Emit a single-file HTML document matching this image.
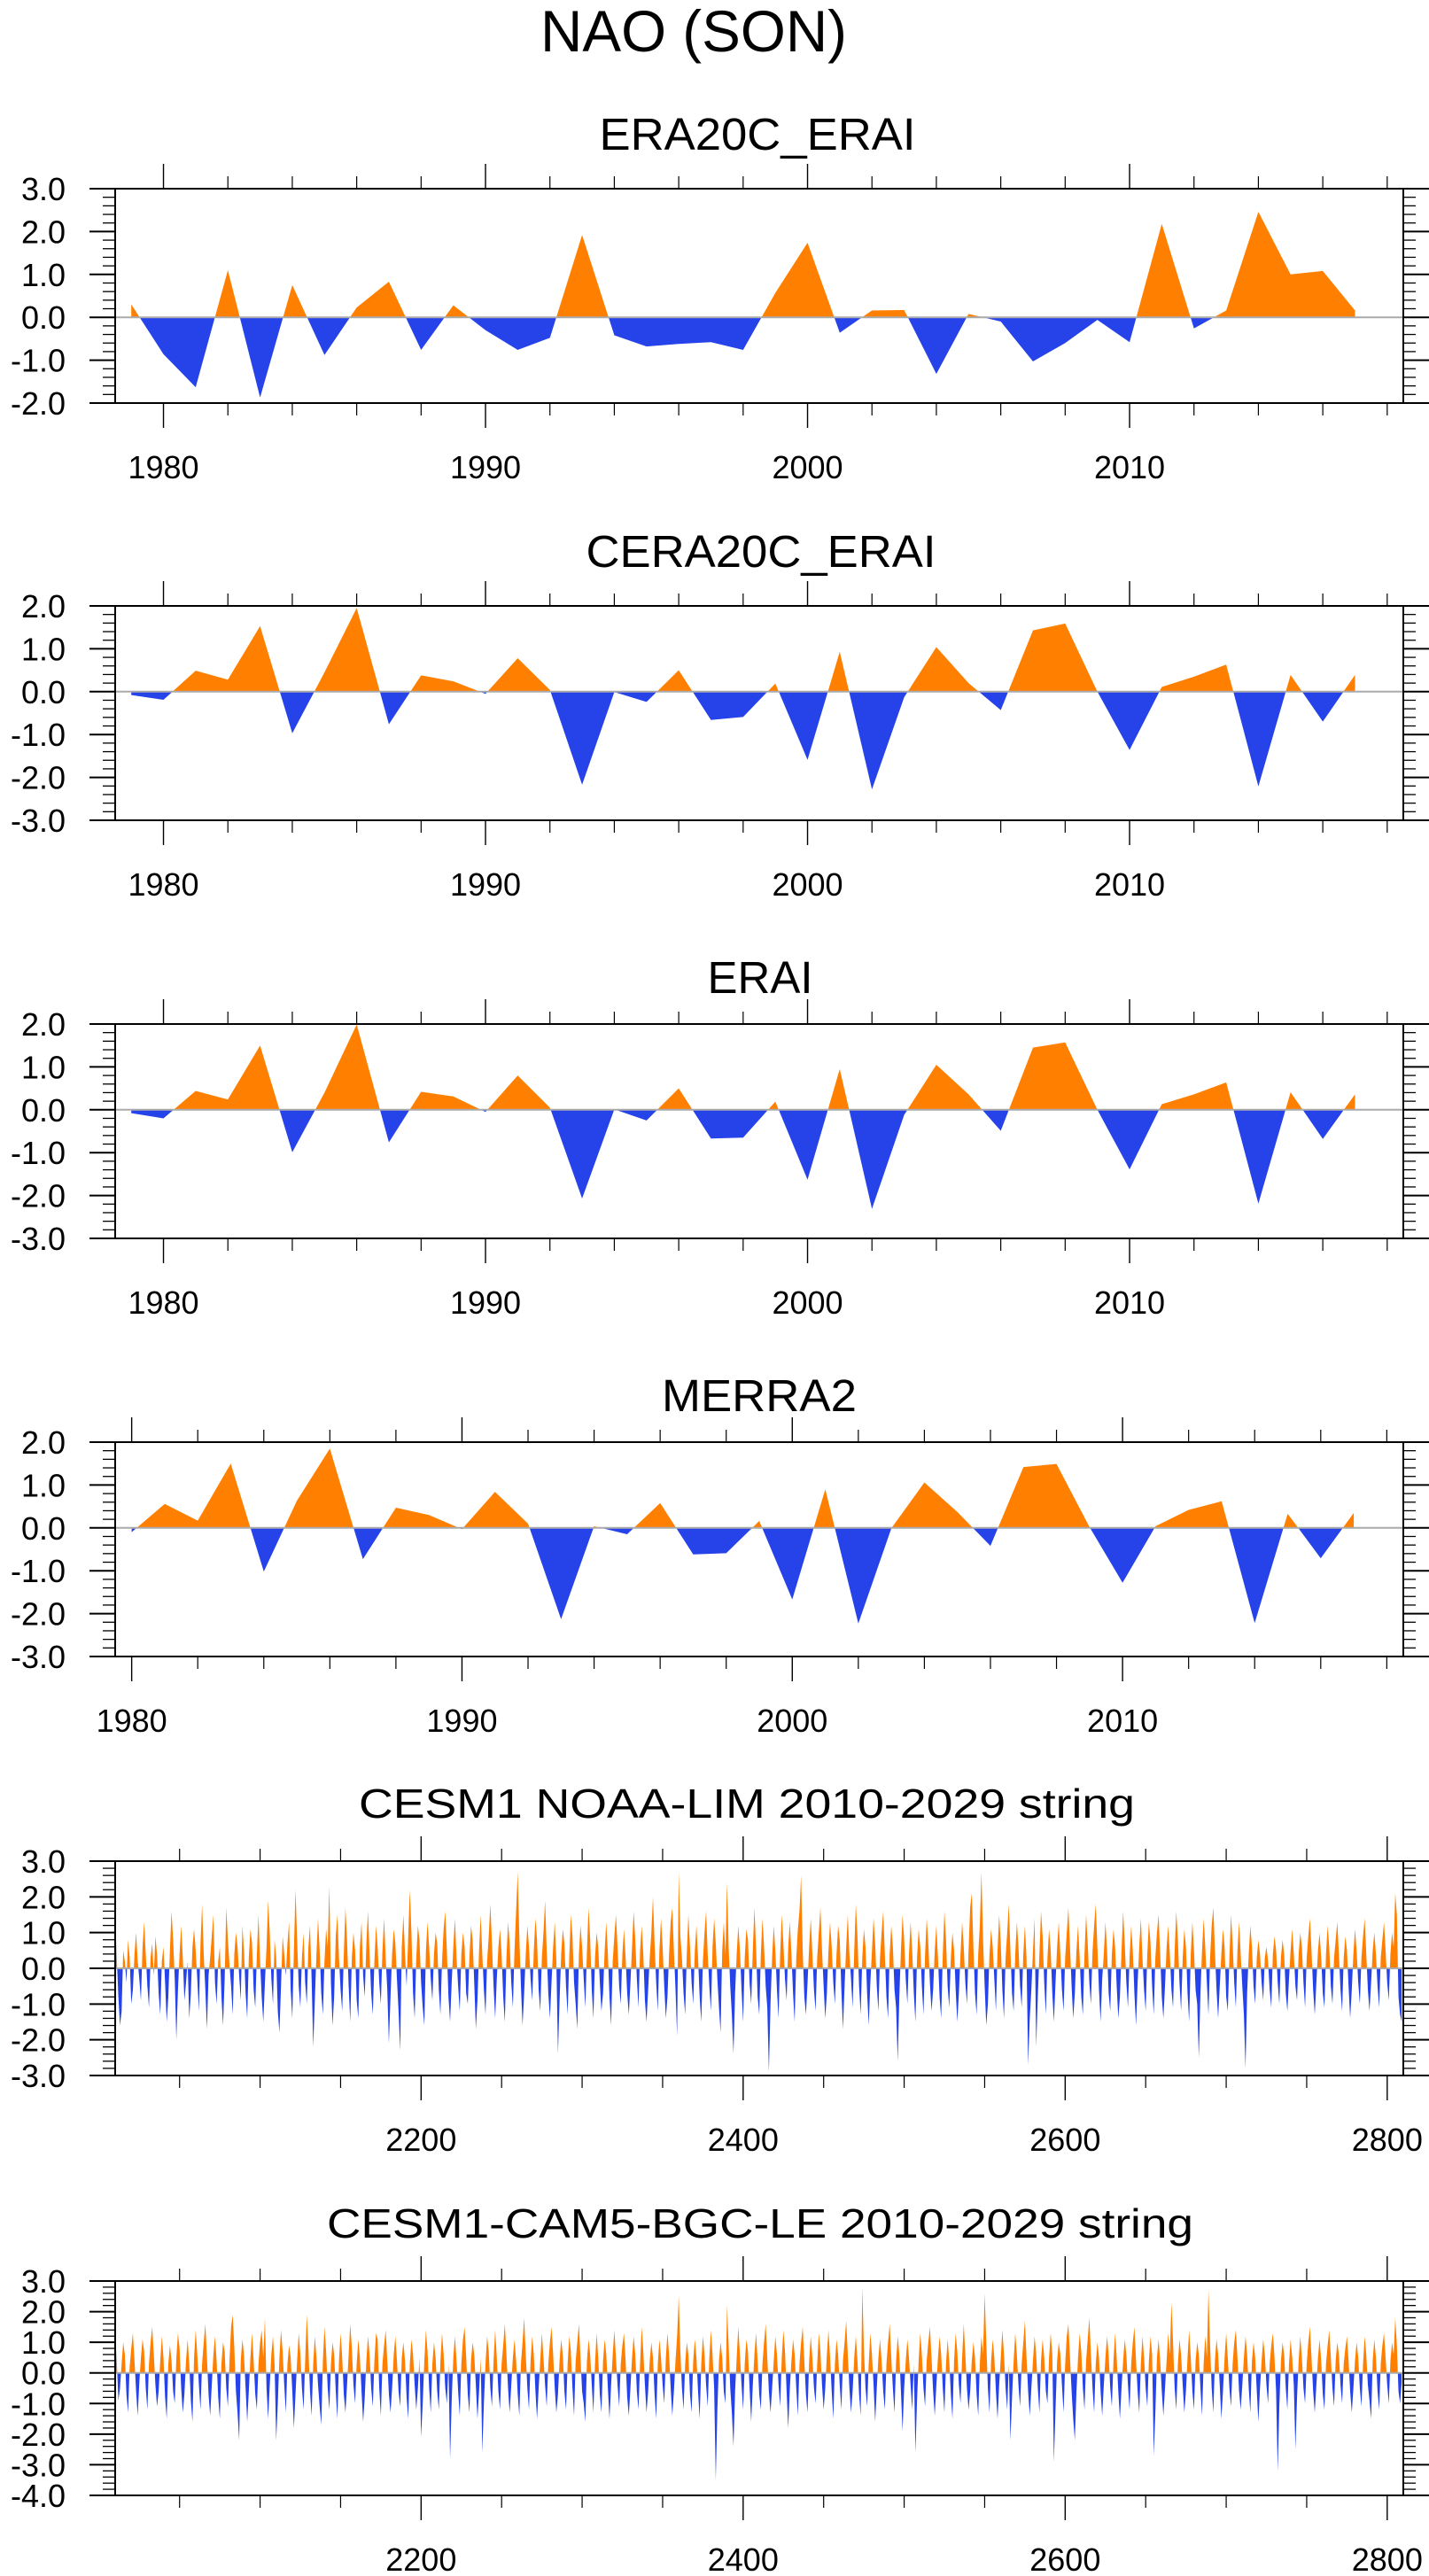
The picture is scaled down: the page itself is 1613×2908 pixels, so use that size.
<!DOCTYPE html>
<html><head><meta charset="utf-8"><title>NAO (SON)</title>
<style>html,body{margin:0;padding:0;background:#fff}svg{display:block}text{font-family:"Liberation Sans",Arial,sans-serif;fill:#000}</style>
</head><body>
<svg id="chart" xmlns="http://www.w3.org/2000/svg" width="1613" height="2908" viewBox="0 0 1613 2908">
<rect width="1613" height="2908" fill="#fff"/>
<text x="783" y="58" font-size="66" text-anchor="middle" textLength="346" lengthAdjust="spacingAndGlyphs">NAO (SON)</text>
</svg>
<script>
// ---------- data ----------
const eraYears = [];
for (let y = 1979; y <= 2017; y++) eraYears.push(y);
const merraYears = [];
for (let y = 1980; y <= 2017; y++) merraYears.push(y);
const cesmYears = [];
for (let y = 2010; y <= 2809; y++) cesmYears.push(y);

const era20cEraiValues = [0.3,-0.86,-1.63,1.1,-1.87,0.75,-0.88,0.23,0.83,-0.76,0.28,-0.3,-0.76,-0.48,1.92,-0.42,-0.68,-0.62,-0.58,-0.76,0.57,1.74,-0.36,0.16,0.17,-1.32,0.08,-0.1,-1.03,-0.6,-0.06,-0.58,2.18,-0.26,0.16,2.46,1.0,1.08,0.16];
const cera20cEraiValues = [-0.08,-0.19,0.49,0.28,1.53,-0.97,0.45,1.95,-0.76,0.38,0.24,-0.05,0.78,0.04,-2.17,-0.01,-0.24,0.5,-0.66,-0.59,0.19,-1.59,0.93,-2.28,-0.13,1.04,0.2,-0.43,1.43,1.59,0.0,-1.36,0.11,0.35,0.63,-2.21,0.39,-0.7,0.39];
const eraiValues = [-0.08,-0.2,0.44,0.24,1.5,-0.99,0.4,1.99,-0.76,0.42,0.31,-0.05,0.8,0.05,-2.07,0.01,-0.25,0.5,-0.67,-0.65,0.19,-1.63,0.95,-2.31,-0.12,1.05,0.36,-0.49,1.45,1.57,0.0,-1.39,0.13,0.36,0.64,-2.19,0.41,-0.68,0.36];
const merra2Values = [-0.1,0.56,0.17,1.5,-1.02,0.63,1.85,-0.73,0.47,0.3,-0.03,0.84,0.1,-2.13,0.04,-0.15,0.58,-0.62,-0.59,0.16,-1.67,0.9,-2.23,-0.01,1.06,0.37,-0.42,1.42,1.49,0.02,-1.28,0.04,0.42,0.62,-2.22,0.33,-0.71,0.35];

const noaaLimValues = [
1.4,0.3,-0.8,-1.6,-1.2,0.5,0.2,-0.4,0.8,0.3,-1.0,-0.6,0.4,1.0,0.2,-0.3,-0.9,0.6,1.3,0.4,
-0.5,-1.1,0.3,0.7,-0.2,0.9,0.4,-0.7,-1.3,0.2,0.6,-0.4,-1.5,-0.8,0.5,1.6,0.8,-0.3,-2.0,-0.6,
0.4,1.2,0.3,-0.9,-0.4,0.2,-1.4,-0.7,0.6,1.1,0.5,-0.3,-1.2,0.7,1.8,0.4,-0.6,-1.7,-0.2,0.3,
0.9,1.5,-0.4,-1.0,0.2,0.6,-0.8,-1.6,-0.3,1.7,0.8,0.1,-0.5,-1.3,0.4,1.0,0.6,-0.2,-0.9,1.2,
0.5,-0.7,-1.4,0.3,1.1,0.7,-0.6,-1.1,0.4,1.5,0.2,-0.8,-1.5,-0.4,0.6,1.9,1.0,-0.3,-1.0,0.8,
0.3,-1.2,-1.8,-0.5,0.9,0.4,-0.2,0.7,1.3,-0.6,-1.4,0.5,2.2,0.8,-0.5,-1.1,0.3,1.0,-0.4,-1.0,
0.6,1.2,-0.3,-2.2,-0.9,0.4,1.4,0.5,-0.7,-1.3,0.2,1.1,0.6,2.3,-0.4,-1.6,-0.8,0.9,1.5,0.3,
-0.6,-1.2,0.4,1.7,0.8,-0.5,-1.5,0.3,1.0,0.5,-0.9,-1.4,0.6,1.3,-0.2,-0.8,0.7,1.6,0.4,-0.7,
-1.3,0.2,1.2,0.6,-0.4,-1.0,0.5,1.4,0.3,-0.6,-2.1,-0.8,0.4,1.1,0.7,-0.3,-1.2,-2.3,0.6,1.5,
0.4,-0.5,0.9,2.2,1.0,-0.7,-1.4,0.3,1.2,0.8,-0.4,-1.1,-1.6,0.5,1.3,0.6,-0.3,-0.9,0.4,1.0,
0.7,-0.6,-1.3,0.2,1.1,1.6,0.5,-0.8,-1.5,-0.4,0.6,1.4,0.3,-0.5,-1.2,0.4,1.0,0.6,-0.7,-1.0,
0.3,1.2,0.8,-0.4,-1.7,-0.9,0.5,1.5,0.4,-0.6,-1.3,0.2,0.9,1.8,0.7,-0.5,-1.4,-0.3,0.6,1.1,
0.4,-0.8,-1.5,0.3,1.3,0.7,-0.4,-1.1,0.5,1.6,2.7,0.9,-0.5,-1.6,-0.7,0.4,1.2,0.6,-0.3,-0.9,
0.5,1.4,0.8,-0.6,-1.2,0.3,1.0,1.9,0.5,-0.7,-1.4,-0.4,0.6,1.3,0.2,-2.4,-0.9,0.4,1.1,0.7,
-0.5,-1.3,0.3,1.5,0.9,-0.4,-1.0,-1.7,0.4,1.2,0.6,-0.3,-1.1,0.5,1.7,0.8,-0.6,-1.4,0.3,1.0,
0.6,-0.4,-1.2,-0.7,0.5,1.3,0.4,-0.8,-1.6,0.2,0.9,1.5,0.6,-0.5,-1.0,0.4,1.1,0.3,-0.7,-1.3,
-0.4,0.6,1.6,0.8,-0.3,-1.1,0.5,1.2,0.4,-0.9,-1.5,-0.6,0.3,1.0,2.0,0.7,-0.4,-1.2,0.5,1.4,
0.6,-0.5,-1.4,-0.8,0.4,1.3,1.7,0.5,-0.6,-1.9,2.7,0.9,0.3,-0.7,-1.3,0.4,1.5,0.6,-0.4,-1.0,
0.5,1.2,0.3,-0.8,-1.5,0.2,1.0,1.6,0.4,-0.5,-1.2,0.6,1.4,0.7,-0.3,-1.1,-1.8,0.5,1.3,0.4,
2.4,0.6,-0.5,-1.3,-2.4,-0.7,0.4,1.2,0.5,-0.6,-1.5,0.3,1.1,0.8,-0.4,-1.0,0.5,1.7,0.6,-0.8,
-1.3,0.4,1.4,0.6,-0.5,-1.1,-2.9,-1.0,0.3,1.2,0.5,-0.6,-1.4,0.4,1.5,0.7,-0.3,-0.9,0.6,1.3,
0.4,-0.7,-1.5,0.3,1.1,1.6,2.6,0.5,-0.8,-1.3,-0.4,0.6,1.4,0.4,-0.6,-1.2,0.3,1.0,1.7,0.5,
-0.5,-1.4,-0.7,0.5,1.3,0.6,-0.4,-1.0,0.4,1.2,0.8,-0.6,-1.7,-0.5,0.6,1.5,0.4,-0.3,-1.1,0.5,
1.8,0.9,-0.5,-1.3,0.3,1.1,0.6,-0.7,-1.6,-0.4,0.5,1.4,0.7,-0.5,-1.2,0.3,1.0,1.6,0.4,-0.8,
-1.4,0.4,1.2,0.6,-0.6,-1.1,-2.6,-0.8,0.5,1.5,0.8,-0.3,-1.0,0.4,1.3,0.5,-0.7,-1.5,0.3,1.1,
0.6,-0.5,-1.3,0.4,1.4,0.7,-0.4,-1.2,-0.6,0.5,1.2,0.3,-0.8,-1.4,0.4,1.6,0.8,-0.5,-1.1,0.3,
1.0,0.5,-0.6,-1.5,-0.7,0.4,1.3,0.6,-0.4,-1.0,0.5,1.7,2.1,0.6,-0.7,-1.3,0.4,1.2,2.7,0.8,
-0.5,-1.6,-1.0,0.4,1.1,0.6,-0.3,-1.2,0.5,1.5,0.7,-0.6,-1.4,0.3,1.0,1.8,0.5,-0.7,-1.2,0.4,
1.3,0.6,-0.5,-1.1,0.4,1.2,0.3,-2.7,-1.4,-0.6,0.5,1.4,-2.2,-0.8,0.4,1.6,0.9,-0.4,-1.3,0.3,
1.1,0.5,-0.7,-1.5,-0.4,0.6,1.3,0.4,-0.6,-1.2,0.3,1.0,1.7,0.6,-0.5,-1.4,-0.7,0.5,1.2,0.3,
-0.8,-1.3,0.4,1.5,0.7,-0.4,-1.0,0.5,1.2,1.8,0.6,-0.6,-1.5,-0.3,0.4,1.3,0.5,-0.7,-1.2,0.4,
1.1,0.6,-0.5,-1.4,-0.8,0.5,1.6,0.7,-0.4,-1.1,0.3,1.2,0.5,-0.7,-1.6,-0.4,0.6,1.4,0.3,-0.6,
-1.2,0.4,1.3,0.7,-0.5,-1.3,0.3,1.0,1.5,0.4,-0.8,-1.4,-0.5,0.6,1.2,0.4,-0.6,-1.1,0.5,1.6,
0.8,-0.4,-1.2,0.3,1.1,0.6,-0.7,-1.5,0.4,1.3,0.5,-0.6,-1.0,-2.5,-0.7,0.5,1.4,0.6,-0.4,-1.3,
0.3,1.2,1.7,0.5,-0.6,-1.4,-0.5,0.4,1.1,0.6,-0.8,-1.2,0.3,1.5,0.7,-0.4,-1.1,0.5,1.3,0.4,
-0.5,-1.3,-2.8,-0.7,0.4,1.2,0.6,-0.5,-1.0,0.3,0.8,0.4,-0.4,-0.9,0.3,0.6,0.2,-0.6,-1.1,0.4,
0.9,0.5,-0.4,-1.0,0.3,0.8,0.4,-0.7,-1.2,-0.3,0.5,1.1,0.4,-0.5,-0.9,0.4,1.0,0.6,-0.4,-1.1,
0.3,0.9,1.4,0.5,-0.6,-1.3,-0.4,0.5,1.0,0.3,-0.7,-1.1,0.4,1.2,0.6,-0.5,-1.0,0.3,0.8,1.3,
0.4,-0.6,-1.2,0.3,0.9,0.5,-0.5,-1.4,-0.6,0.4,1.1,0.5,-0.4,-1.0,0.3,0.9,1.4,0.4,-0.6,-1.2,
-0.4,0.5,1.0,0.4,-0.5,-1.1,0.3,0.8,1.3,0.5,-0.4,-0.9,0.4,1.0,0.6,2.1,1.5,-0.8,-1.3,-1.5];

const bgcLeValues = [
1.2,0.4,-0.9,-0.5,0.3,1.0,0.6,-0.7,-1.3,0.2,0.8,1.3,0.4,-0.6,-1.4,-0.3,0.5,1.1,0.7,-0.5,
-1.2,0.3,1.0,1.5,0.6,-0.4,-1.1,-0.6,0.4,1.2,0.5,-0.8,-1.5,0.3,0.9,0.4,-0.6,-1.0,0.5,1.3,
0.8,-0.5,-1.3,-0.7,0.4,1.1,0.3,-0.9,-1.6,0.5,1.4,0.6,-0.4,-1.2,0.3,1.0,1.6,0.5,-0.7,-1.4,
-0.4,0.6,1.2,0.4,-0.8,-1.5,0.3,1.0,0.7,-0.5,-1.1,0.4,1.5,1.9,0.8,-0.6,-1.3,-2.2,0.4,1.1,
0.6,-0.5,-1.6,-0.6,0.5,1.3,0.4,-0.7,-1.2,0.3,1.0,1.4,0.5,1.8,-0.5,-1.5,-0.4,0.6,1.2,0.3,
-2.2,-1.0,0.5,1.4,0.7,-0.4,-1.3,0.3,0.9,0.5,-0.6,-1.8,-0.7,0.4,1.3,0.6,-0.5,-1.2,0.4,1.9,
0.8,-0.6,-1.4,0.3,1.2,0.5,-0.4,-1.1,-1.7,0.4,1.5,0.7,-0.5,-1.2,0.3,1.0,0.6,-0.6,-1.5,0.4,
1.3,0.5,-0.7,-1.3,-0.4,0.6,1.6,0.8,-0.4,-1.0,0.3,1.1,0.5,-0.6,-1.6,-0.8,0.4,1.2,0.6,-0.5,
-1.1,0.4,1.3,1.1,-0.5,-1.4,0.3,0.9,1.4,0.4,-0.7,-1.3,-0.5,0.6,1.2,0.4,-0.6,-1.1,0.5,1.0,
0.4,-0.8,-1.5,0.3,1.1,0.6,-0.4,-1.2,-0.5,0.5,-2.1,-1.0,0.4,1.4,0.7,-0.5,-1.3,0.3,1.0,0.5,
-0.6,-1.2,0.4,1.3,0.6,-0.5,-1.0,0.3,-2.8,-0.9,0.5,1.2,0.4,-0.6,-1.4,0.3,1.1,1.5,0.5,-0.7,
-1.3,0.4,1.0,0.6,-0.4,-1.5,-0.6,0.5,-2.6,-1.0,0.3,1.2,0.7,-0.5,-1.1,0.4,1.4,0.5,-0.6,-1.2,
0.3,0.9,1.6,0.6,-0.5,-1.3,-0.4,0.5,1.1,0.4,-0.7,-1.4,0.3,1.0,1.8,0.6,-0.5,-1.2,0.4,1.2,
0.6,-0.6,-1.5,-0.5,0.4,1.3,0.5,-0.4,-1.1,0.3,1.0,1.5,0.6,-0.5,-1.3,-0.7,0.4,1.1,0.6,-0.6,
-1.2,0.3,1.2,0.7,-0.5,-1.4,0.4,1.0,1.6,0.5,-0.6,-1.0,-1.6,0.4,1.1,0.6,-0.4,-1.3,0.3,1.3,
0.5,-0.7,-1.3,0.4,1.1,0.6,-0.5,-1.5,-0.4,0.6,1.4,0.5,-0.4,-1.1,0.3,0.9,1.3,0.4,-0.8,-1.4,
-0.5,0.5,1.2,0.6,-0.6,-1.2,0.3,1.5,0.7,-0.4,-1.3,-0.6,0.4,1.0,0.5,-0.7,-1.5,0.3,1.1,0.5,
-0.4,-1.0,0.5,1.3,0.6,-0.5,-1.4,-0.6,0.4,1.2,2.5,0.7,-0.5,-1.2,0.3,1.0,0.6,-0.7,-1.3,0.4,
1.1,0.5,-0.6,-1.5,0.3,1.2,0.6,-0.4,-1.1,0.5,1.4,0.6,-0.5,-3.5,-1.2,0.4,1.0,0.5,-0.6,-1.0,
2.2,0.9,-0.5,-1.3,-2.4,-0.6,0.5,1.5,0.6,-0.4,-1.2,0.3,1.1,0.7,-0.5,-1.6,-0.4,0.6,1.3,0.4,
-0.7,-1.2,0.3,1.0,1.6,0.5,-0.6,-1.3,-0.5,0.4,1.2,0.6,-0.4,-1.1,0.5,1.4,0.7,-0.6,-1.8,-0.5,
0.4,1.1,0.6,-0.5,-1.4,0.3,1.0,1.5,0.4,-0.7,-1.3,0.4,1.2,0.5,-0.5,-1.0,0.3,1.3,0.7,-0.4,
-1.2,-0.5,0.6,1.4,0.5,-0.6,-1.5,0.3,1.1,0.6,-0.4,-1.2,0.4,1.0,1.7,0.6,-0.5,-1.3,-0.6,0.5,
1.2,0.4,-0.7,-1.4,2.8,0.8,-0.5,-1.1,0.3,1.3,0.6,-0.4,-1.6,-0.5,0.5,1.1,0.4,-0.6,-1.2,0.3,
1.0,1.6,0.5,-0.5,-1.3,0.4,1.2,0.6,-0.6,-1.9,-0.5,0.4,1.1,0.5,-0.4,-1.2,0.3,-2.6,-0.9,0.4,
1.3,0.6,-0.5,-1.1,0.4,1.0,1.5,0.5,-0.6,-1.4,-0.4,0.5,1.2,0.6,-0.5,-1.3,0.3,1.1,0.4,-0.7,
-1.5,0.4,1.3,0.7,-0.4,-1.0,0.5,1.6,0.6,-0.5,-1.2,-0.6,0.4,1.0,0.5,-0.7,-1.4,0.3,1.2,0.6,
2.6,1.0,-0.5,-1.3,0.4,1.1,0.5,-0.6,-1.5,-0.4,0.5,1.4,0.6,-0.5,-1.2,0.3,-2.2,-0.8,0.4,1.3,
0.6,-0.4,-1.1,0.3,1.0,1.7,0.5,-0.6,-1.4,-0.5,0.4,1.2,0.6,-0.5,-1.3,0.4,1.1,0.5,-0.6,-1.0,
0.5,1.3,0.6,-2.9,-1.2,0.4,1.0,0.6,-0.4,-1.3,0.3,1.2,1.6,0.5,-0.6,-1.5,-2.2,-0.6,0.5,1.3,
0.7,-0.5,-1.2,0.4,1.1,1.8,0.6,-0.5,-1.3,0.3,1.0,0.5,-0.6,-1.4,-0.4,0.5,1.2,0.6,-0.5,-1.1,
0.4,1.3,0.5,-0.6,-1.5,-0.5,0.4,1.1,0.6,-0.4,-1.2,0.3,1.0,1.5,0.4,-0.6,-1.3,0.3,1.2,0.5,
-0.5,-1.1,0.4,1.2,0.6,-2.7,-1.3,0.5,1.1,0.4,-0.6,-1.4,-0.5,0.4,1.3,0.6,2.3,1.0,-0.5,-1.2,
0.3,1.1,0.6,-0.4,-1.3,-0.6,0.5,1.4,0.5,-0.6,-1.2,0.4,1.0,0.6,-0.5,-1.4,0.3,1.2,0.5,2.7,
0.9,-0.5,-1.3,0.4,1.1,0.6,-0.4,-1.5,-0.6,0.5,1.3,0.5,-0.5,-1.1,0.3,1.0,1.4,0.5,-0.6,-1.2,
-0.4,0.5,1.2,0.6,-0.5,-1.3,0.4,1.0,0.5,-0.6,-1.6,-0.5,0.4,1.1,0.6,-0.4,-1.0,0.3,0.9,1.3,
0.5,-0.6,-3.2,-1.1,0.4,1.0,0.6,-0.5,-1.2,0.3,1.1,0.5,-0.4,-2.5,-0.8,0.4,1.2,0.5,-0.5,-1.0,
0.3,1.0,1.5,0.5,-0.6,-1.3,-0.4,0.5,1.1,0.4,-0.7,-1.2,0.3,0.9,1.4,0.5,-0.5,-1.1,0.4,1.0,
0.6,-0.4,-1.0,0.3,0.8,1.2,0.4,-0.6,-1.3,-0.5,0.4,1.0,0.5,-0.5,-1.1,0.3,1.2,0.6,-0.4,-0.9,
-1.5,0.4,1.1,0.5,-0.6,-1.2,0.3,0.9,1.3,0.5,-0.4,-1.0,0.4,1.0,0.6,1.8,0.9,-0.6,-1.0,-0.3];

const decadeTickLabels = ["1980","1990","2000","2010"];
const cesmTickLabels = ["2200","2400","2600","2800"];

// ---------- drawing ----------
const NS = "http://www.w3.org/2000/svg";
const svg = document.getElementById("chart");
const ORANGE = "#ff8000", BLUE = "#2643ea";
function mk(tag, attrs, parent) {
  const e = document.createElementNS(NS, tag);
  for (const k in attrs) e.setAttribute(k, attrs[k]);
  (parent || svg).appendChild(e);
  return e;
}
let clipN = 0;
function drawPanel(p) {
  const g = mk("g", {});
  
  
  const X0 = 130, X1 = 1584, Y0 = p.top, Y1 = p.top + 242;
  const sx = v => X0 + (v - p.xmin) / (p.xmax - p.xmin) * (X1 - X0);
  const sy = v => Y1 - (v - p.ymin) / (p.ymax - p.ymin) * (Y1 - Y0);
  const t = mk("text", {x: p.titleX, y: p.titleY, "font-size": p.titleSize, "text-anchor": "middle", textLength: p.titleW, lengthAdjust: "spacingAndGlyphs"}, g);
  t.textContent = p.title;
  
  
  // fill
  const z = sy(0);
  let pts = sx(p.xs[0]).toFixed(2) + "," + z.toFixed(2);
  for (let i = 0; i < p.xs.length; i++) pts += " " + sx(p.xs[i]).toFixed(2) + "," + sy(p.ys[i]).toFixed(2);
  pts += " " + sx(p.xs[p.xs.length - 1]).toFixed(2) + "," + z.toFixed(2);
  const ida = "ca" + (++clipN), idb = "cb" + clipN;
  const cpa = mk("clipPath", {id: ida}, g); mk("rect", {x: X0, y: Y0 - 50, width: X1 - X0, height: z - Y0 + 50}, cpa);
  const cpb = mk("clipPath", {id: idb}, g); mk("rect", {x: X0, y: z, width: X1 - X0, height: Y1 - z + 50}, cpb);
  const pa = mk("polygon", {points: pts, fill: ORANGE, "clip-path": "url(#" + ida + ")"}, g);
  
  
  const pb = mk("polygon", {points: pts, fill: BLUE, "clip-path": "url(#" + idb + ")"}, g);
  
  
  const zl = mk("line", {x1: X0, x2: X1, y1: z, y2: z, stroke: "#aaaaaa", "stroke-width": 2}, g);
  
  
  // frame
  const fr = mk("rect", {x: X0, y: Y0, width: X1 - X0, height: Y1 - Y0, fill: "none", stroke: "#000", "stroke-width": 2}, g);
  
  
  // y ticks
  for (let k = Math.round(p.ymin * 5); k <= Math.round(p.ymax * 5); k++) {
    const v = k / 5, y = sy(v), major = k % 5 === 0, L = major ? 29 : 14;
    mk("line", {x1: X0 - L, x2: X0, y1: y, y2: y, stroke: "#000", "stroke-width": major ? 2 : 1.3}, g);
    mk("line", {x1: X1, x2: X1 + L, y1: y, y2: y, stroke: "#000", "stroke-width": major ? 2 : 1.3}, g);
    if (major) {
      const lb = mk("text", {x: 74, y: y + 13, "font-size": 36, "text-anchor": "end"}, g);
      lb.textContent = v.toFixed(1);
      
      
    }
  }
  // x ticks
  for (const v of p.minorX) {
    if (v < p.xmin || v > p.xmax) continue;
    const x = sx(v);
    mk("line", {x1: x, x2: x, y1: Y0 - 14, y2: Y0, stroke: "#000", "stroke-width": 1.2}, g);
    mk("line", {x1: x, x2: x, y1: Y1, y2: Y1 + 14, stroke: "#000", "stroke-width": 1.2}, g);
  }
  p.majorX.forEach((v, i) => {
    const x = sx(v);
    mk("line", {x1: x, x2: x, y1: Y0 - 28, y2: Y0, stroke: "#000", "stroke-width": 1.4}, g);
    mk("line", {x1: x, x2: x, y1: Y1, y2: Y1 + 28, stroke: "#000", "stroke-width": 1.4}, g);
    const lb = mk("text", {x: x, y: Y1 + 85, "font-size": 36, "text-anchor": "middle"}, g);
    lb.textContent = p.xlabels[i];
    
    
  });
}
const yearMinor = []; for (let y = 1982; y <= 2018; y += 2) if (y % 10) yearMinor.push(y);
const cesmMinor = []; for (let y = 2050; y <= 2800; y += 50) if (y % 200) cesmMinor.push(y);
const decadeMajor = decadeTickLabels.map(Number);
const cesmMajor = cesmTickLabels.map(Number);

drawPanel({name: "era20c-erai-panel", title: "ERA20C_ERAI", titleX: 855, titleY: 169, titleSize: 51, titleW: 357, top: 213, xmin: 1978.5, xmax: 2018.5, ymin: -2, ymax: 3, xs: eraYears, ys: era20cEraiValues, majorX: decadeMajor, minorX: yearMinor, xlabels: decadeTickLabels});
drawPanel({name: "cera20c-erai-panel", title: "CERA20C_ERAI", titleX: 859, titleY: 640, titleSize: 51, titleW: 395, top: 684, xmin: 1978.5, xmax: 2018.5, ymin: -3, ymax: 2, xs: eraYears, ys: cera20cEraiValues, majorX: decadeMajor, minorX: yearMinor, xlabels: decadeTickLabels});
drawPanel({name: "erai-panel", title: "ERAI", titleX: 858, titleY: 1121, titleSize: 51, titleW: 119, top: 1156, xmin: 1978.5, xmax: 2018.5, ymin: -3, ymax: 2, xs: eraYears, ys: eraiValues, majorX: decadeMajor, minorX: yearMinor, xlabels: decadeTickLabels});
drawPanel({name: "merra2-panel", title: "MERRA2", titleX: 857, titleY: 1593, titleSize: 51, titleW: 220, top: 1628, xmin: 1979.5, xmax: 2018.5, ymin: -3, ymax: 2, xs: merraYears, ys: merra2Values, majorX: decadeMajor, minorX: yearMinor, xlabels: decadeTickLabels});
drawPanel({name: "cesm1-noaa-lim-panel", title: "CESM1 NOAA-LIM 2010-2029 string", titleX: 843, titleY: 2052, titleSize: 46, titleW: 876, top: 2101, xmin: 2010, xmax: 2810, ymin: -3, ymax: 3, xs: cesmYears, ys: noaaLimValues, majorX: cesmMajor, minorX: cesmMinor, xlabels: cesmTickLabels});
drawPanel({name: "cesm1-cam5-bgc-le-panel", title: "CESM1-CAM5-BGC-LE 2010-2029 string", titleX: 858, titleY: 2526, titleSize: 46, titleW: 978, top: 2575, xmin: 2010, xmax: 2810, ymin: -4, ymax: 3, xs: cesmYears, ys: bgcLeValues, majorX: cesmMajor, minorX: cesmMinor, xlabels: cesmTickLabels});
</script>
</body></html>
